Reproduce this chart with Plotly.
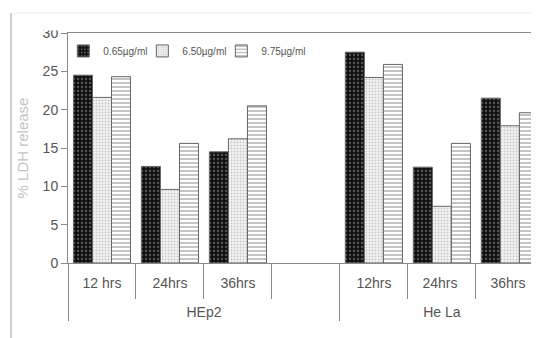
import plotly.graph_objects as go

cell_lines = ["HEp2", "HEp2", "HEp2", "HEp2", "He La", "He La", "He La"]
times = ["12 hrs", "24hrs", "36hrs", " ", "12hrs", "24hrs ", "36hrs "]
series_names = ["0.65µg/ml", "6.50µg/ml", "9.75µg/ml"]
dose_065 = [24.5, 12.6, 14.5, None, 27.5, 12.5, 21.5]
dose_650 = [21.6, 9.6, 16.2, None, 24.2, 7.4, 17.9]
dose_975 = [24.3, 15.6, 20.5, None, 25.9, 15.6, 19.6]
y_ticks = [0, 5, 10, 15, 20, 25, 30]

FONT = "Liberation Sans, Arial, sans-serif"
GREY = "#555555"
AXIS = "#8a8a8a"

patterns = [
    dict(color="#111111", pattern=dict(shape=".", fgcolor="#a0a0a0", size=4, solidity=0.25)),
    dict(color="#ffffff", pattern=dict(shape=".", fgcolor="#9a9a9a", bgcolor="#f4f4f4", size=3, solidity=0.3)),
    dict(color="#ffffff", pattern=dict(shape="-", fgcolor="#555555", bgcolor="#ffffff", size=4, solidity=0.35)),
]
legend_widths = [34, 34, 50]

# second-level labels sit one line lower, below the first-level labels
group_labels = [" <br>" + c for c in cell_lines]

fig = go.Figure()
for name, vals, p, lw in zip(series_names, [dose_065, dose_650, dose_975], patterns, legend_widths):
    fig.add_trace(go.Bar(
        x=[group_labels, times], y=vals, name=name, legendwidth=lw,
        marker=dict(color=p["color"], pattern=p["pattern"],
                    line=dict(color="#666666", width=1)),
    ))

# the page body has an 8px default margin, so the figure is drawn 8px in
PW, PH = 467, 230  # plot area size in px
fig.update_layout(
    width=531, height=330,
    margin=dict(l=60, r=4, t=25, b=75, autoexpand=False),
    paper_bgcolor="white", plot_bgcolor="white",
    barmode="group", bargap=0.16, bargroupgap=0,
    font=dict(family=FONT, color=GREY, size=14),
    showlegend=True,
    legend=dict(orientation="h", x=-0.01, y=0.985, xanchor="left", yanchor="top",
                font=dict(size=10, color=GREY), bgcolor="rgba(0,0,0,0)",
                itemwidth=30, tracegroupgap=0),
    xaxis=dict(type="multicategory", range=[-0.5, 6.37], automargin=False,
               showline=True, linecolor=AXIS, linewidth=1, mirror=True,
               ticks="outside", tickson="boundaries", ticklen=35, tickcolor=AXIS,
               ticklabelstandoff=7,
               showdividers=True, dividercolor=AXIS, dividerwidth=1,
               tickfont=dict(size=14, color=GREY), showgrid=False, zeroline=False),
    yaxis=dict(range=[0, 30], tickvals=y_ticks, showline=True, linecolor=AXIS, linewidth=1,
               automargin=False,
               ticks="outside", ticklen=6, tickcolor=AXIS, showgrid=False, zeroline=False,
               tickfont=dict(size=14, color=GREY),
               title=dict(text="% LDH release", font=dict(size=15, color="#c4c4c4"), standoff=10)),
    shapes=[
        # white band clipping top of the "30" label, as in the cropped source image
        dict(type="rect", xref="paper", yref="paper", x0=-56/PW, x1=-1/PW,
             y0=(263-30.5)/PH, y1=(263-14)/PH, fillcolor="white", line=dict(width=0), layer="above"),
        dict(type="line", xref="paper", yref="paper", x0=-57/PW, x1=-57/PW,
             y0=-75/PH, y1=250/PH, line=dict(color="#cfcfcf", width=2), layer="above"),
        dict(type="line", xref="paper", yref="paper", x0=-57/PW, x1=1.01,
             y0=250/PH, y1=250/PH, line=dict(color="#eeeeee", width=1), layer="above"),
    ],
)

fig.write_html("out.html")
